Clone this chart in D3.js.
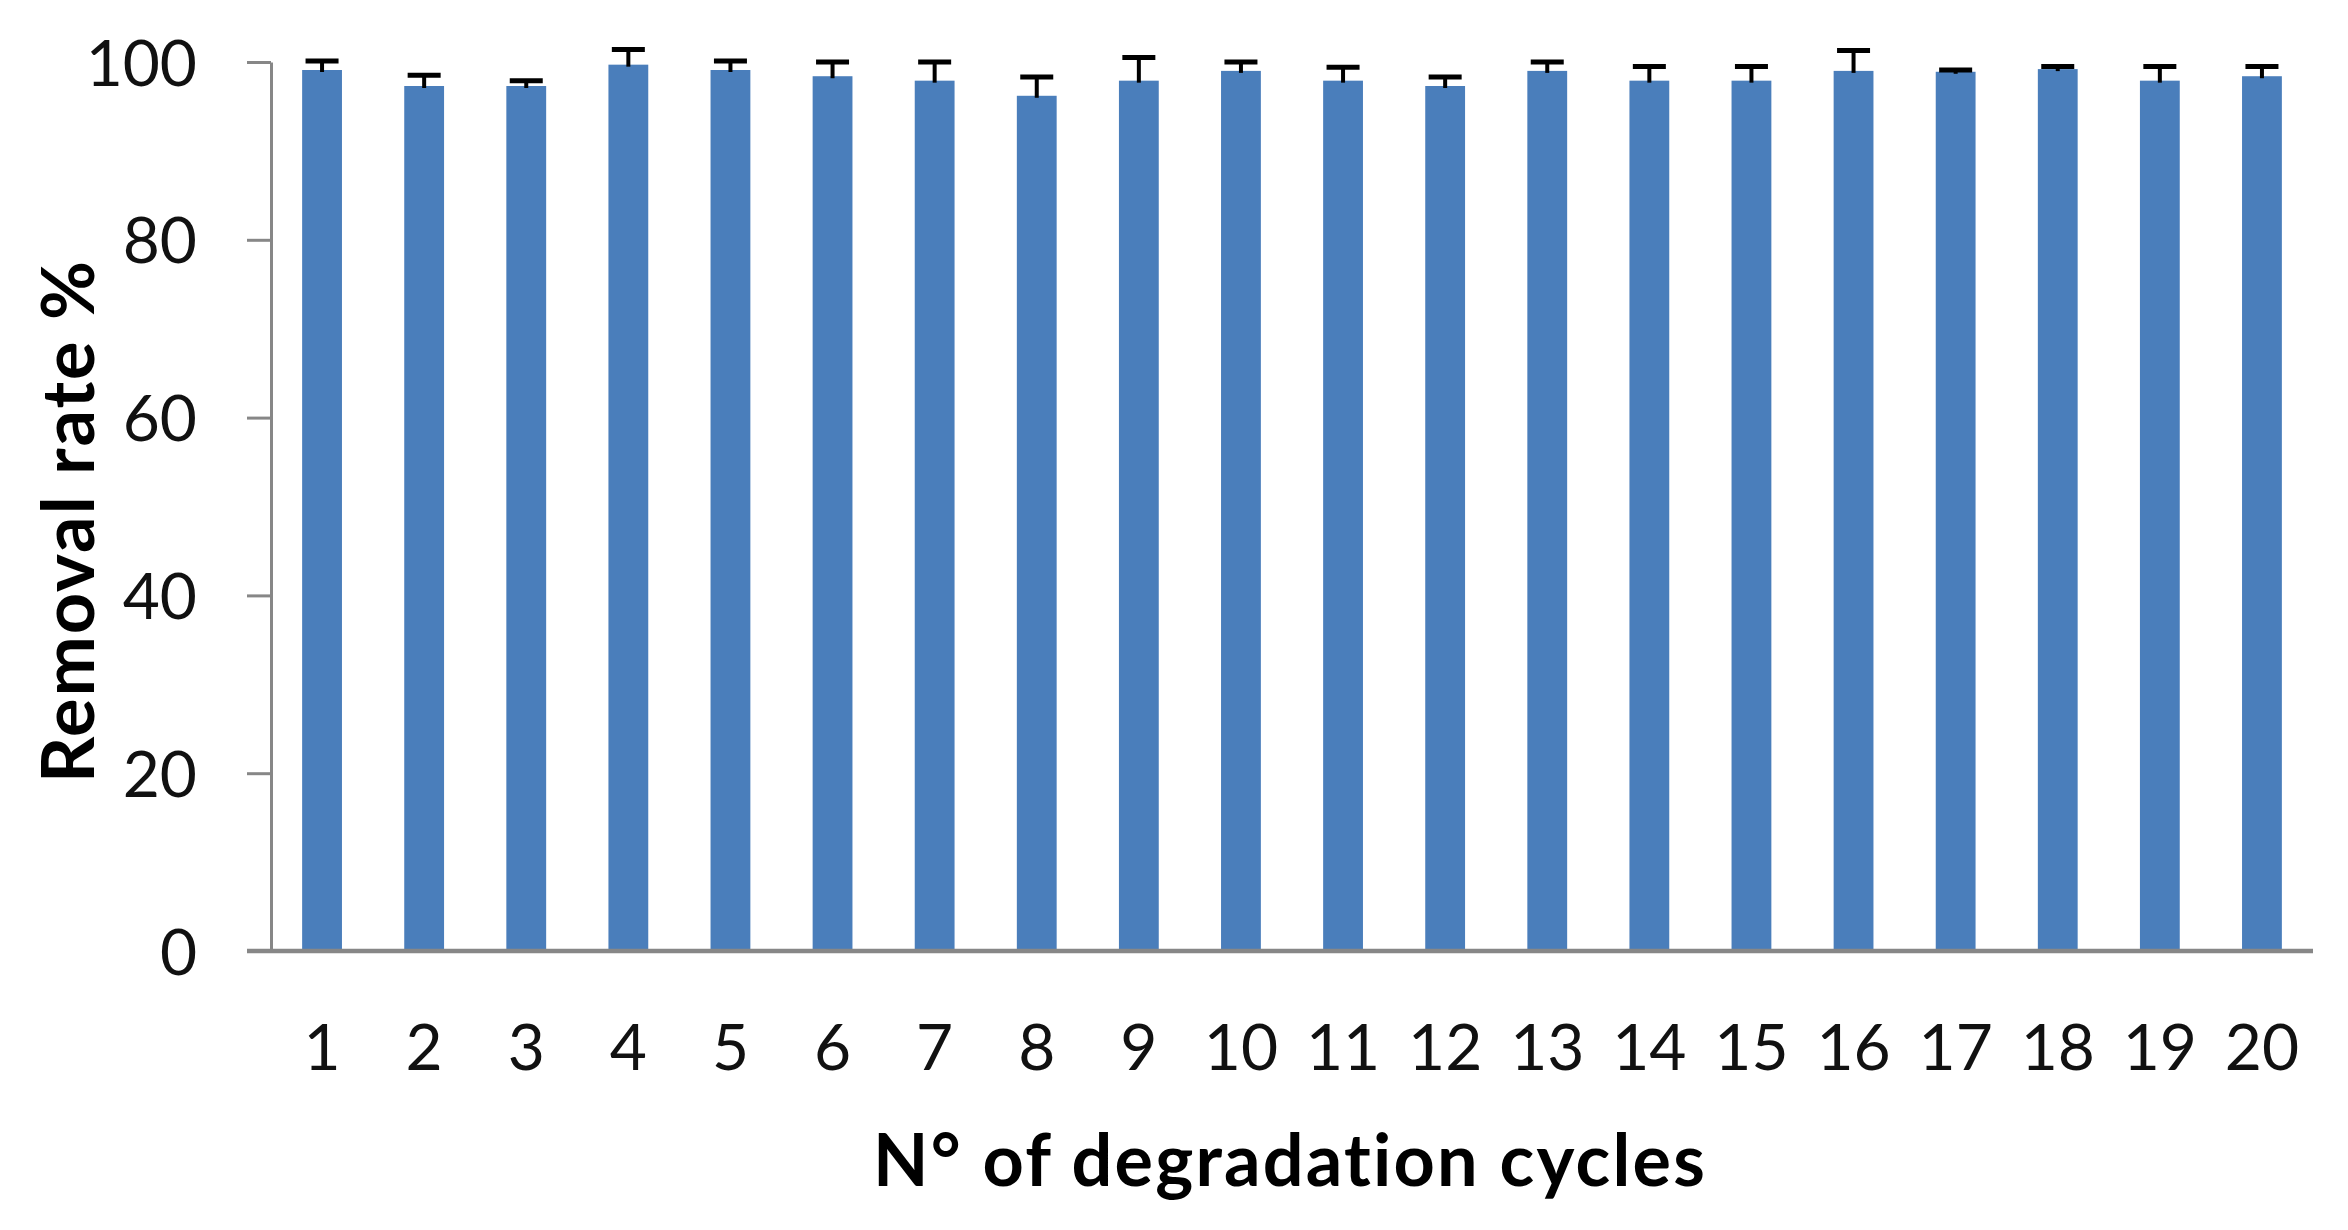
<!DOCTYPE html>
<html>
<head>
<meta charset="utf-8">
<script src="https://cdn.jsdelivr.net/npm/d3@7"></script>
<style>
  html, body { margin: 0; padding: 0; background: #ffffff; }
  svg { display: block; }
</style>
</head>
<body>
<svg id="chart" width="2348" height="1230"></svg>
<script>
// ---- data ----
const cycles = ["1","2","3","4","5","6","7","8","9","10","11","12","13","14","15","16","17","18","19","20"];
const removalRate = [99.1, 97.3, 97.3, 99.7, 99.1, 98.4, 97.9, 96.2, 97.9, 99.0, 97.9, 97.3, 99.0, 97.9, 97.9, 99.0, 98.9, 99.2, 97.9, 98.4];
const errorPlus = [1.0, 1.2, 0.6, 1.7, 1.0, 1.6, 2.1, 2.1, 2.6, 1.0, 1.5, 1.0, 1.0, 1.6, 1.6, 2.3, 0.2, 0.3, 1.6, 1.1];
const yTicks = [0, 20, 40, 60, 80, 100];
const xTitle = "N° of degradation cycles";
const yTitle = "Removal rate %";

// ---- layout ----
const svg = d3.select("#chart");
const plotLeft = 271, plotRight = 2313, plotTop = 62, plotBottom = 951;
const axisColor = "#878787";
const barColor = "#4a7ebb";
const font = "Lato, 'Open Sans', sans-serif";

const x = d3.scaleBand().domain(cycles).range([plotLeft, plotRight]).paddingInner(0.61).paddingOuter(0.305);
const y = d3.scaleLinear().domain([0, 100]).range([plotBottom, plotTop]);

// bars
svg.append("g").selectAll("rect").data(cycles).join("rect")
  .attr("x", d => x(d))
  .attr("width", x.bandwidth())
  .attr("y", (d, i) => y(removalRate[i]))
  .attr("height", (d, i) => y(0) - y(removalRate[i]))
  .attr("fill", barColor);

// error bars (plus direction)
const eb = svg.append("g").attr("stroke", "#000");
cycles.forEach((d, i) => {
  const cx = x(d) + x.bandwidth() / 2;
  const y0 = y(removalRate[i]);
  const y1 = y(removalRate[i] + errorPlus[i]);
  eb.append("line").attr("x1", cx).attr("x2", cx).attr("y1", y0 + 2).attr("y2", y1).attr("stroke-width", 4);
  eb.append("line").attr("x1", cx - 16.5).attr("x2", cx + 16.5).attr("y1", y1).attr("y2", y1).attr("stroke-width", 5);
});

// y axis
const yAxis = d3.axisLeft(y).tickValues(yTicks).tickSize(24).tickPadding(50).tickSizeOuter(0);
const gy = svg.append("g").attr("transform", `translate(${plotLeft},0)`).call(yAxis);
gy.select(".domain").attr("stroke", axisColor).attr("stroke-width", 3);
gy.selectAll(".tick line").attr("stroke", axisColor).attr("stroke-width", 3);
gy.selectAll(".tick text").attr("font-family", font).attr("font-size", 64).attr("fill", "#111").attr("dy", "0.36em");

// x axis
const xAxis = d3.axisBottom(x).tickSize(0).tickPadding(0).tickSizeOuter(0);
const gx = svg.append("g").attr("transform", `translate(0,${plotBottom})`).call(xAxis);
gx.select(".domain").remove();
gx.append("line").attr("x1", plotLeft - 24).attr("x2", plotRight).attr("y1", 0).attr("y2", 0)
  .attr("stroke", axisColor).attr("stroke-width", 4.5);
gx.selectAll(".tick text").attr("font-family", font).attr("font-size", 64).attr("fill", "#111")
  .attr("y", 119).attr("dy", 0);

// titles
svg.append("text").attr("x", 1290).attr("y", 1186).attr("text-anchor", "middle")
  .attr("font-family", font).attr("font-weight", "bold").attr("font-size", 72)
  .attr("letter-spacing", 2.2).attr("fill", "#000")
  .text(xTitle);
svg.append("text").attr("transform", "translate(94,521) rotate(-90)").attr("text-anchor", "middle")
  .attr("font-family", font).attr("font-weight", "bold").attr("font-size", 72)
  .attr("letter-spacing", 2).attr("fill", "#000")
  .text(yTitle);
</script>
</body>
</html>
